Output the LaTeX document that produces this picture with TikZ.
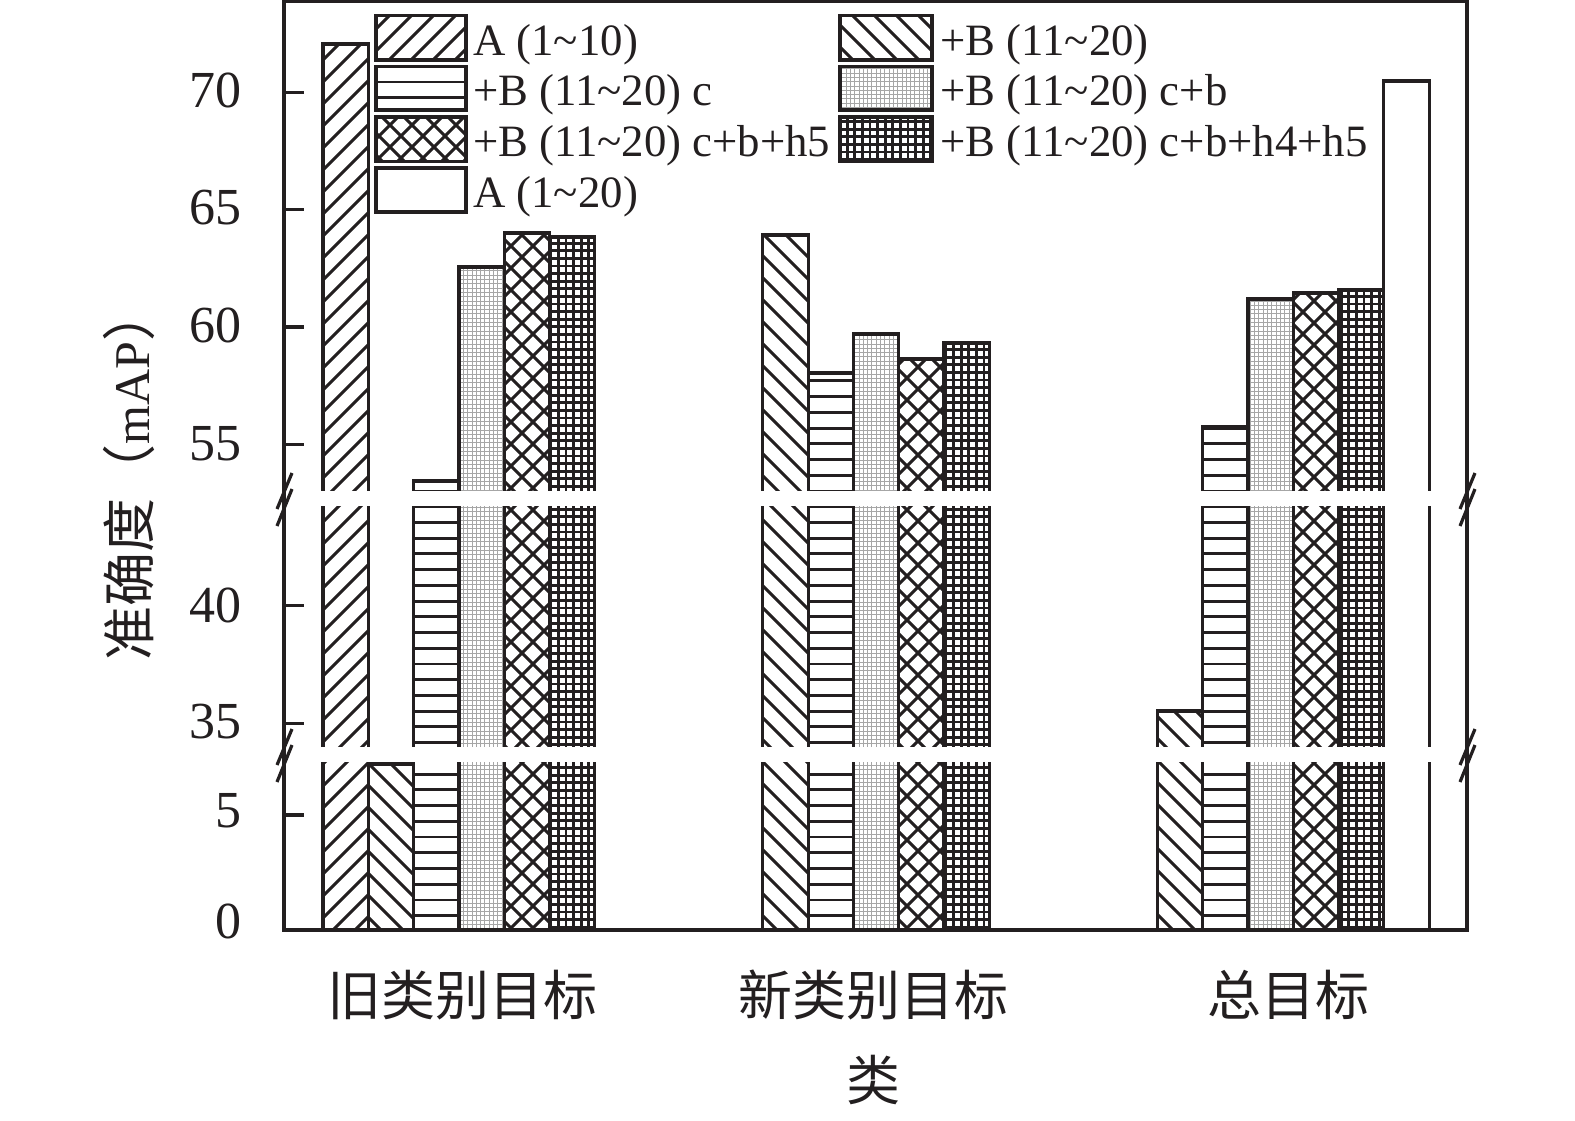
\documentclass[tikz,border=0pt]{standalone}
\usepackage{fontspec}
\setmainfont{Liberation Serif}
\newfontfamily\cjk{Noto Sans CJK SC}
\definecolor{ink}{RGB}{35,31,32}
\begin{document}
\begin{tikzpicture}[x=0.5pt,y=-0.5pt,
  ol/.style={line width=1.6pt,draw=ink},
  hl/.style={line width=1.45pt,draw=ink},
  gl/.style={line width=0.45pt,draw=black!35},
  tg/.style={line width=1.35pt,draw=ink},
  ticklab/.style={font=\fontsize{26}{26}\selectfont,inner sep=0pt,anchor=east,text=ink},
  leg/.style={font=\fontsize{22.4}{22.4}\selectfont,inner sep=0pt,anchor=base west,text=ink},
  cat/.style={font=\cjk\fontsize{27}{27}\selectfont,inner sep=0pt,text=ink},
]
\useasboundingbox (0,0) rectangle (1575,1120);
\fill[white] (0,0) rectangle (1575,1120);

% ---- forward hatch "/" : A (1~10)
\begin{scope}
\clip (323,44) rectangle (368.3,930) (376,15.7) rectangle (466,60);
\foreach \c in {9,31,...,2385} \draw[hl] (\c,0) -- ++(-1000,1000);
\end{scope}
% ---- backward hatch "\" : +B (11~20)
\begin{scope}
\clip (368.3,764) rectangle (413.6,930) (762.8,235) rectangle (808.1,930)
      (1157.3,711) rectangle (1202.6,930) (840,15.7) rectangle (932,60);
\foreach \k in {-66,...,28} \draw[hl] (200,{221+22*\k}) -- ++(1300,1300);
\end{scope}
% ---- horizontal lines : +B (11~20) c
\begin{scope}
\clip (413.6,481) rectangle (458.9,930) (808.1,373) rectangle (853.4,930)
      (1202.6,427) rectangle (1247.9,930) (376,66.7) rectangle (466,110);
\foreach \k in {-33,...,28} \draw[hl] (300,{506.7+15.73*\k}) -- (1450,{506.7+15.73*\k});
\end{scope}
% ---- fine gray grid : +B (11~20) c+b
\begin{scope}
\clip (458.9,267) rectangle (504.2,930) (853.4,334) rectangle (898.7,930)
      (1247.9,299) rectangle (1293.2,930) (840,66.7) rectangle (932,110);
\foreach \i in {0,...,270} \draw[gl] ({300+4.3*\i},0) -- ++(0,940);
\foreach \j in {0,...,217} \draw[gl] (280,{4.3*\j}) -- ++(1200,0);
\end{scope}
% ---- cross hatch : +B (11~20) c+b+h5
\begin{scope}
\clip (504.2,233) rectangle (549.5,930) (898.7,359) rectangle (944,930)
      (1293.2,293) rectangle (1338.5,930) (376,117) rectangle (466,161.7);
\foreach \c in {9,31,...,2385} \draw[hl] (\c,0) -- ++(-1000,1000);
\foreach \k in {-66,...,28} \draw[hl] (200,{221+22*\k}) -- ++(1300,1300);
\end{scope}
% ---- thick grid : +B (11~20) c+b+h4+h5
\begin{scope}
\clip (549.5,237) rectangle (594.8,930) (944,343) rectangle (989.3,930)
      (1338.5,290) rectangle (1383.8,930) (840,117) rectangle (932,161.7);
\foreach \i in {0,...,152} \draw[tg] ({300+7.6*\i},0) -- ++(0,940);
\foreach \j in {0,...,123} \draw[tg] (280,{7.6*\j}) -- ++(1200,0);
\end{scope}

% ---- outlines of bars and legend swatches
\draw[ol] (323,44) rectangle (368.3,930);
\draw[ol] (368.3,764) rectangle (413.6,930);
\draw[ol] (413.6,481) rectangle (458.9,930);
\draw[ol] (458.9,267) rectangle (504.2,930);
\draw[ol] (504.2,233) rectangle (549.5,930);
\draw[ol] (549.5,237) rectangle (594.8,930);
\draw[ol] (762.8,235) rectangle (808.1,930);
\draw[ol] (808.1,373) rectangle (853.4,930);
\draw[ol] (853.4,334) rectangle (898.7,930);
\draw[ol] (898.7,359) rectangle (944,930);
\draw[ol] (944,343) rectangle (989.3,930);
\draw[ol] (1157.3,711) rectangle (1202.6,930);
\draw[ol] (1202.6,427) rectangle (1247.9,930);
\draw[ol] (1247.9,299) rectangle (1293.2,930);
\draw[ol] (1293.2,293) rectangle (1338.5,930);
\draw[ol] (1338.5,290) rectangle (1383.8,930);
\draw[ol] (1383.8,81) rectangle (1429.1,930);
\draw[ol] (376,15.7) rectangle (466,60);
\draw[ol] (376,66.7) rectangle (466,110);
\draw[ol] (376,117) rectangle (466,161.7);
\draw[ol] (376,168) rectangle (466,212);
\draw[ol] (840,15.7) rectangle (932,60);
\draw[ol] (840,66.7) rectangle (932,110);
\draw[ol] (840,117) rectangle (932,161.7);

% ---- axis break gaps
\fill[white] (286,491) rectangle (1465.4,506);
\fill[white] (286,747) rectangle (1465.4,762);

% ---- frame and ticks
\draw[ol] (284,1.6) rectangle (1467,930);
\foreach \t in {92.3,209.6,326.9,444.1,605.7,723.3,815} \draw[ol] (284,\t) -- ++(20,0);
% ---- break marks
\foreach \xa in {284,1467} \foreach \yc in {498.5,754.5} {
  \draw[ol] ({\xa+8},{\yc-25.5}) -- ({\xa-7},{\yc+10.5});
  \draw[ol] ({\xa+8},{\yc-9.5}) -- ({\xa-7},{\yc+27.5});
}

% ---- tick labels
\node[ticklab] (t70) at (242,90.5) {70};
\node[ticklab] (t65) at (242,208) {65};
\node[ticklab] (t60) at (242,325.5) {60};
\node[ticklab] (t55) at (242,444) {55};
\node[ticklab] (t40) at (242,605) {40};
\node[ticklab] (t35) at (242,722) {35};
\node[ticklab] (t5) at (242,811) {5};
\node[ticklab] (t0) at (242,921) {0};

% ---- legend texts
\node[leg] (l1) at (472.7,55) {A (1\textasciitilde10)};
\node[leg] (l2) at (472.7,105) {+B (11\textasciitilde20) c};
\node[leg] (l3) at (472.7,156.7) {+B (11\textasciitilde20) c+b+h5};
\node[leg] (l4) at (472.7,207) {A (1\textasciitilde20)};
\node[leg] (r1) at (940,55) {+B (11\textasciitilde20)};
\node[leg] (r2) at (940,105) {+B (11\textasciitilde20) c+b};
\node[leg] (r3) at (940,156.7) {+B (11\textasciitilde20) c+b+h4+h5};

% ---- category labels
\node[cat] (c1) at (462,995) {旧类别目标};
\node[cat] (c2) at (873,995) {新类别目标};
\node[cat] (c3) at (1288,995) {总目标};
\node[cat] (xlab) at (873,1080) {类};
\node[cat,rotate=90] (ylab) at (129,474) {准确度（{\rmfamily\fontsize{25}{25}\selectfont mAP}）};
\end{tikzpicture}
\end{document}
